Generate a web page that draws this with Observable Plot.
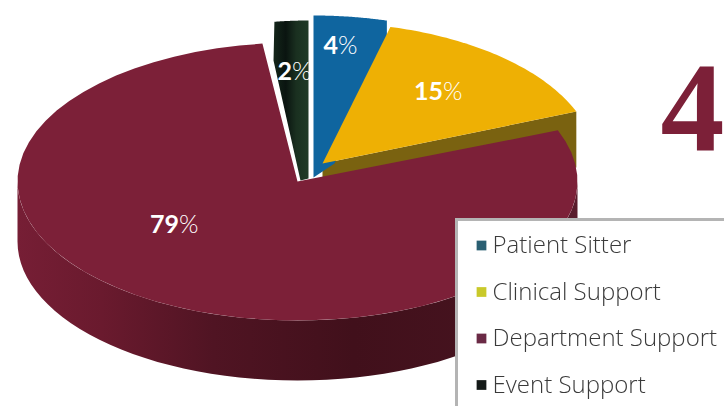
<!DOCTYPE html>
<html><head><meta charset="utf-8">
<script src="https://cdn.jsdelivr.net/npm/d3@7"></script>
<script src="https://cdn.jsdelivr.net/npm/@observablehq/plot@0.6"></script>
<style>html,body{margin:0;padding:0;background:#fff}svg{display:block}</style>
</head><body>
<script>
const categories = ["Patient Sitter", "Clinical Support", "Department Support", "Event Support"];
const shares = [4, 15, 79, 2];
const sliceColors = ["#0f659f", "#eeb004", "#7c2038", "#1a2f20"];
const legendColors = ["#2a5f72", "#c9c92a", "#6a2a45", "#141a18"];

// Pie projection of each slice (ellipse, exploded offset), in chart units
const geometry = [
  {cx: 313, cy: 177, rx: 295, ry: 162, tip: [[313, 177]]},
  {cx: 322, cy: 163, rx: 273, ry: 141, tip: [[322, 163]]},
  {cx: 297, cy: 181, rx: 280, ry: 139, tip: [[297, 181]]},
  {cx: 308, cy: 178, rx: 272, ry: 158, tip: [[308, 178], [300, 180], [273, 60]]}
];
const labelAt = [[337.5, 45], [442.5, 91], [178.5, 224], [291.5, 71]];
const depth = 60;
const drawOrder = [3, 0, 1, 2];

const total = d3.sum(shares);
const bounds = []; let acc = 0;
for (const s of shares) { bounds.push([acc / total * 2 * Math.PI, (acc + s) / total * 2 * Math.PI]); acc += s; }
const pt = (g, a, dy = 0) => [g.cx + g.rx * Math.sin(a), g.cy - g.ry * Math.cos(a) + dy];
const arc = (g, a0, a1, dy = 0) => d3.range(0, 61).map(i => pt(g, a0 + (a1 - a0) * i / 60, dy));
const wedge = i => { const g = geometry[i]; return [...g.tip, ...arc(g, bounds[i][0], bounds[i][1])]; };
const px = d => d[0], py = d => d[1];
const poly = (pts, fill, extra = {}) => Plot.line([...pts, pts[0]], {x: px, y: py, fill, stroke: "none", curve: "linear", ...extra});

const G = geometry[2];
const wallPts = [...arc(G, Math.PI / 2, 3 * Math.PI / 2), ...arc(G, 3 * Math.PI / 2, Math.PI / 2, depth)];
const Y = geometry[1], yEnd = bounds[1][1];
const oliveEdge = [[Y.cx, Y.cy], pt(Y, yEnd), pt(Y, yEnd, 56), [Y.cx, Y.cy + 56]];
const B = geometry[0], bEnd = bounds[0][1];
const blueEdge = [[B.cx, B.cy], pt(B, bEnd), pt(B, bEnd, 18), [Y.cx + 12, Y.cy]];
const blueBody = [...wedge(0), pt(B, bEnd, 18), [Y.cx + 12, Y.cy]];

const defs = () => {
  const d = d3.create("svg:defs");
  const lg = d.append("linearGradient").attr("id", "wall").attr("x1", 0).attr("x2", 1).attr("y1", 0).attr("y2", 0);
  [[0, "#761e35"], [.15, "#6a1a2e"], [.35, "#501423"], [.6, "#41101b"], [.85, "#46131f"], [1, "#5a1c2c"]]
    .forEach(([o, c]) => lg.append("stop").attr("offset", o).attr("stop-color", c));
  const bg = d.append("linearGradient").attr("id", "dark").attr("x1", 0).attr("x2", 1).attr("y1", 0).attr("y2", 0);
  [[0, "#14261a"], [.35, "#0a1410"], [.65, "#1a3020"], [1, "#1f3a26"]]
    .forEach(([o, c]) => bg.append("stop").attr("offset", o).attr("stop-color", c));
  return d.node();
};

const legendX = 455, legendY = 218;
const legendRows = categories.map((name, i) => ({name, color: legendColors[i], y: 245 + i * 46.5}));
const serif = "'Liberation Serif', serif";
const sans = "Lato, 'Noto Sans', sans-serif";

const labels = shares.flatMap((s, i) => [
  Plot.text([s], {x: () => labelAt[i][0], y: () => labelAt[i][1], text: d => String(d), textAnchor: "end", fill: "#fff", fontWeight: 700, fontSize: 25, fontFamily: sans}),
  Plot.text(["%"], {x: () => labelAt[i][0], y: () => labelAt[i][1], text: d => d, textAnchor: "start", fill: "#fff", fontWeight: 300, fontSize: 25, fontFamily: sans})
]);

const chart = Plot.plot({
  width: 724, height: 406, margin: 0,
  x: {domain: [0, 724], range: [0, 724], axis: null},
  y: {domain: [0, 406], range: [0, 406], axis: null},
  style: {background: "#fff"},
  marks: [
    defs,
    poly(wallPts, "url(#wall)"),
    poly(oliveEdge, "#7a6210"),
    poly(blueBody, sliceColors[0]),
    poly(wedge(3), "url(#dark)"),
    poly(wedge(1), sliceColors[1]),
    poly(wedge(2), sliceColors[2]),
    ...labels,
    Plot.text(["4"], {x: () => 692, y: () => 109, text: d => d, fill: "#7c2038", fontWeight: 700, fontSize: 128, fontFamily: serif}),
    Plot.rect([0], {x1: () => legendX, x2: () => 724, y1: () => legendY, y2: () => 406, fill: "#fff"}),
    Plot.ruleX([legendX + 1], {y1: legendY, y2: 406, stroke: "#b4b4b4", strokeWidth: 3}),
    Plot.ruleY([legendY + 1], {x1: legendX, x2: 724, stroke: "#b4b4b4", strokeWidth: 3}),
    Plot.dot(legendRows, {x: () => 481, y: "y", symbol: "square", r: 5.5, fill: "color", stroke: "none", imageFilter: "blur(0.6px)"}),
    Plot.text(legendRows, {x: () => 492, y: "y", text: "name", textAnchor: "start", fontSize: 24, fontFamily: "'Open Sans', sans-serif", fontWeight: 300, fill: "#3a3a3a", imageFilter: "blur(0.5px)"})
  ]
});
document.body.append(chart);
</script>
</body></html>
